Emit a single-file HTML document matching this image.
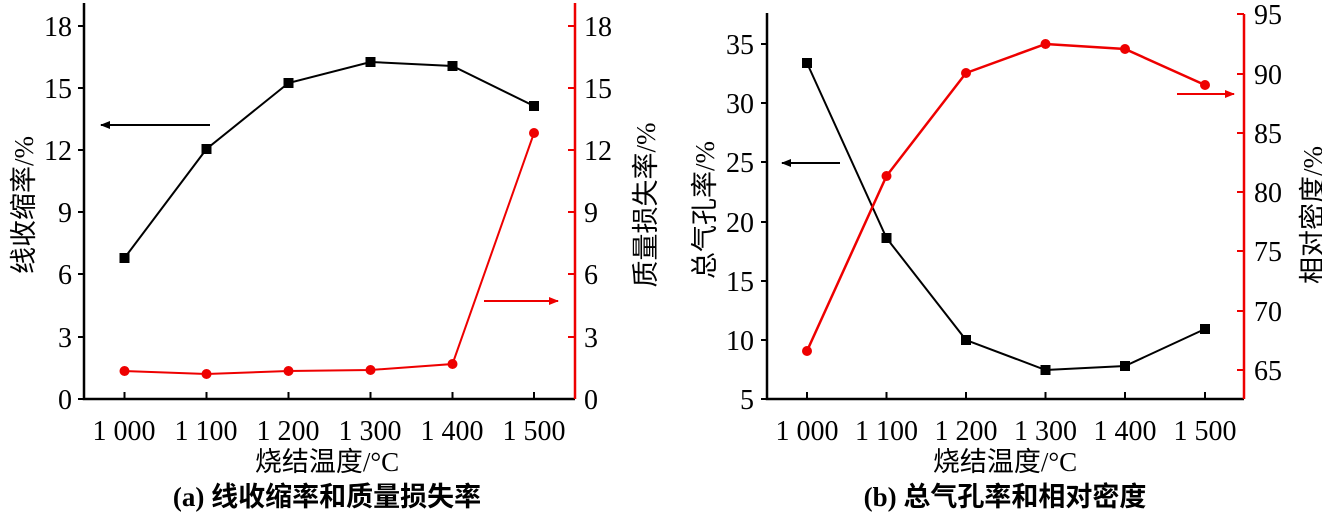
<!DOCTYPE html>
<html><head><meta charset="utf-8"><style>
body{margin:0;background:#fff}
svg text{font-family:"Liberation Serif","Noto Serif CJK SC",serif}
.t{font-size:28px}
.c{font-family:"Liberation Serif","Noto Sans CJK SC",sans-serif;font-size:27px}
</style></head><body>
<svg width="1322" height="521" viewBox="0 0 1322 521" xmlns="http://www.w3.org/2000/svg">
<defs>
<marker id="ab" markerWidth="10" markerHeight="8" refX="9" refY="4" orient="auto" markerUnits="userSpaceOnUse"><path d="M0,0 L10,4 L0,8 Z" fill="#000"/></marker>
<marker id="ar" markerWidth="10" markerHeight="8" refX="9" refY="4" orient="auto" markerUnits="userSpaceOnUse"><path d="M0,0 L10,4 L0,8 Z" fill="#e00"/></marker>
</defs>
<!-- Chart a -->
<g stroke-width="2.5" fill="none">
<path d="M84,3 V399 H575" stroke="#000"/>
<path d="M575,3 V399" stroke="#e00"/>
</g>
<g stroke="#000" stroke-width="2">
<path d="M78,26 h6 M78,88 h6 M78,150 h6 M78,212 h6 M78,274 h6 M78,337 h6 M78,399 h6"/>
<path d="M124.5,399 v-7 M206.5,399 v-7 M288.5,399 v-7 M370.5,399 v-7 M452.5,399 v-7 M534,399 v-7"/>
</g>
<path d="M575,26 h-7 M575,88 h-7 M575,150 h-7 M575,212 h-7 M575,274 h-7 M575,337 h-7" stroke="#e00" stroke-width="2"/>
<g class="t" text-anchor="end">
<text x="72" y="36">18</text><text x="72" y="98">15</text><text x="72" y="160">12</text><text x="72" y="222">9</text><text x="72" y="284">6</text><text x="72" y="347">3</text><text x="72" y="409">0</text>
</g>
<g class="t" text-anchor="start">
<text x="584" y="36">18</text><text x="584" y="98">15</text><text x="584" y="160">12</text><text x="584" y="222">9</text><text x="584" y="284">6</text><text x="584" y="347">3</text><text x="584" y="409">0</text>
</g>
<g class="t" text-anchor="middle">
<text x="124" y="440">1 000</text><text x="206" y="440">1 100</text><text x="288" y="440">1 200</text><text x="370" y="440">1 300</text><text x="452" y="440">1 400</text><text x="534" y="440">1 500</text>
</g>
<polyline points="124.5,258 206.5,149 288.5,83 370.5,62 452.5,66 534,106" fill="none" stroke="#000" stroke-width="2"/>
<g fill="#000"><rect x="119.5" y="253" width="10" height="10"/><rect x="201.5" y="144" width="10" height="10"/><rect x="283.5" y="78" width="10" height="10"/><rect x="365.5" y="57" width="10" height="10"/><rect x="447.5" y="61" width="10" height="10"/><rect x="529" y="101" width="10" height="10"/></g>
<polyline points="124.5,371 206.5,374 288.5,371 370.5,370 452.5,364 534,133" fill="none" stroke="#e00" stroke-width="2"/>
<g fill="#e00"><circle cx="124.5" cy="371" r="5"/><circle cx="206.5" cy="374" r="5"/><circle cx="288.5" cy="371" r="5"/><circle cx="370.5" cy="370" r="5"/><circle cx="452.5" cy="364" r="5"/><circle cx="534" cy="133" r="5"/></g>
<line x1="210" y1="125" x2="101" y2="125" stroke="#000" stroke-width="2" marker-end="url(#ab)"/>
<line x1="484" y1="301" x2="558" y2="301" stroke="#e00" stroke-width="2" marker-end="url(#ar)"/>
<text class="c" transform="translate(33,205) rotate(-90)" text-anchor="middle">线收缩率/%</text>
<text class="c" transform="translate(655,205) rotate(-90)" text-anchor="middle">质量损失率/%</text>
<text class="c" x="327" y="471" text-anchor="middle">烧结温度/°C</text>
<text class="c" x="327" y="506" text-anchor="middle" font-weight="bold">(a) 线收缩率和质量损失率</text>
<!-- Chart b -->
<g stroke-width="2.5" fill="none">
<path d="M767,13 V399 H1244" stroke="#000"/>
<path d="M1244,14 V399" stroke="#e00"/>
</g>
<g stroke="#000" stroke-width="2">
<path d="M761,44 h6 M761,103 h6 M761,162 h6 M761,222 h6 M761,281 h6 M761,340 h6 M761,399 h6"/>
<path d="M807,399 v-7 M886.5,399 v-7 M966,399 v-7 M1045.5,399 v-7 M1125,399 v-7 M1205,399 v-7"/>
</g>
<path d="M1244,14 h-7 M1244,74 h-7 M1244,133 h-7 M1244,192 h-7 M1244,251 h-7 M1244,311 h-7 M1244,370 h-7" stroke="#e00" stroke-width="2"/>
<g class="t" text-anchor="end">
<text x="754" y="54">35</text><text x="754" y="113">30</text><text x="754" y="172">25</text><text x="754" y="232">20</text><text x="754" y="291">15</text><text x="754" y="350">10</text><text x="754" y="409">5</text>
</g>
<g class="t" text-anchor="start">
<text x="1254" y="24">95</text><text x="1254" y="84">90</text><text x="1254" y="143">85</text><text x="1254" y="202">80</text><text x="1254" y="261">75</text><text x="1254" y="321">70</text><text x="1254" y="380">65</text>
</g>
<g class="t" text-anchor="middle">
<text x="807" y="440">1 000</text><text x="886.5" y="440">1 100</text><text x="966" y="440">1 200</text><text x="1045.5" y="440">1 300</text><text x="1125" y="440">1 400</text><text x="1205" y="440">1 500</text>
</g>
<polyline points="807,63 886.5,238 966,340 1045.5,370 1125,366 1205,329" fill="none" stroke="#000" stroke-width="2"/>
<g fill="#000"><rect x="802" y="58" width="10" height="10"/><rect x="881.5" y="233" width="10" height="10"/><rect x="961" y="335" width="10" height="10"/><rect x="1040.5" y="365" width="10" height="10"/><rect x="1120" y="361" width="10" height="10"/><rect x="1200" y="324" width="10" height="10"/></g>
<polyline points="807,351 886.5,176 966,73 1045.5,44 1125,49 1205,85" fill="none" stroke="#e00" stroke-width="2.5"/>
<g fill="#e00"><circle cx="807" cy="351" r="5"/><circle cx="886.5" cy="176" r="5"/><circle cx="966" cy="73" r="5"/><circle cx="1045.5" cy="44" r="5"/><circle cx="1125" cy="49" r="5"/><circle cx="1205" cy="85" r="5"/></g>
<line x1="840" y1="163" x2="782" y2="163" stroke="#000" stroke-width="2" marker-end="url(#ab)"/>
<line x1="1177" y1="94" x2="1234" y2="94" stroke="#e00" stroke-width="2" marker-end="url(#ar)"/>
<text class="c" transform="translate(714,210) rotate(-90)" text-anchor="middle">总气孔率/%</text>
<text class="c" transform="translate(1322,215) rotate(-90)" text-anchor="middle">相对密度/%</text>
<text class="c" x="1005" y="471" text-anchor="middle">烧结温度/°C</text>
<text class="c" x="1005" y="506" text-anchor="middle" font-weight="bold">(b) 总气孔率和相对密度</text>
</svg>
</body></html>
